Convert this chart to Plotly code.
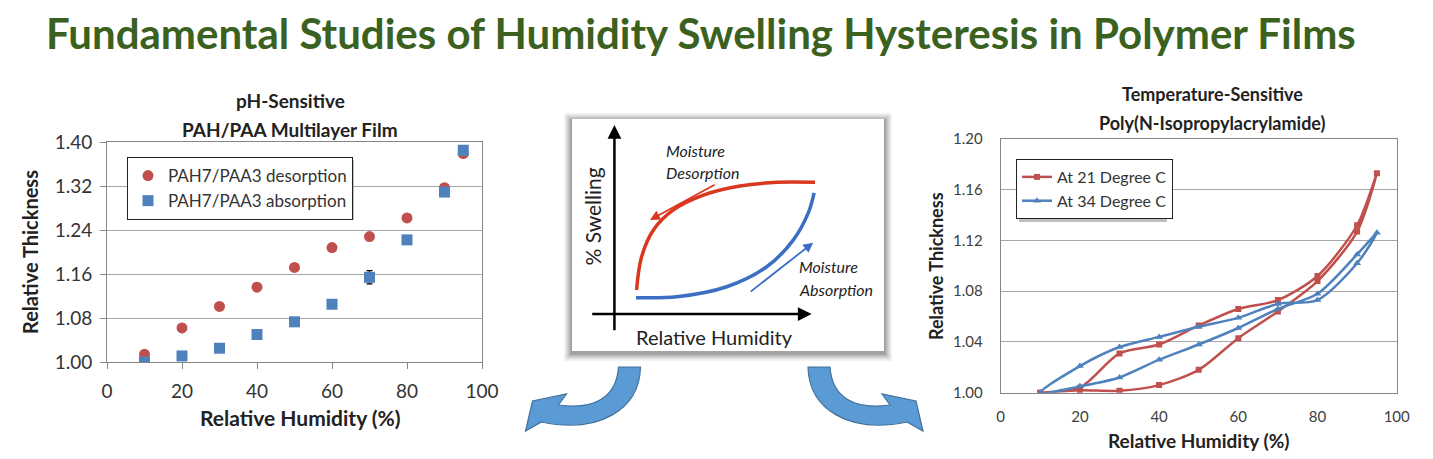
import plotly.graph_objects as go

# ---- data: left chart (PAH/PAA multilayer film) ----
rh_left = [10, 20, 30, 40, 50, 60, 70, 80, 90, 95]
desorption = [1.014, 1.062, 1.101, 1.136, 1.172, 1.208, 1.228, 1.262, 1.317, 1.379]
desorption_err = [0.003, 0.003, 0.003, 0.003, 0.003, 0.003, 0.004, 0.003, 0.003, 0.006]
absorption = [1.000, 1.011, 1.025, 1.050, 1.073, 1.105, 1.154, 1.222, 1.309, 1.385]
absorption_err = [0.002, 0.002, 0.002, 0.002, 0.002, 0.002, 0.012, 0.002, 0.003, 0.004]

# ---- data: right chart (PNIPAM), loops up and back down ----
rh_21 = [10, 20, 30, 40, 50, 60, 70, 80, 90, 95, 90, 80, 70, 60, 50, 40, 30, 20, 10]
thick_21 = [1.000, 1.002, 1.0015, 1.006, 1.018, 1.043, 1.064, 1.088, 1.127, 1.173,
            1.132, 1.092, 1.073, 1.066, 1.053, 1.038, 1.031, 1.004, 1.000]
rh_34 = [10, 20, 30, 40, 50, 60, 70, 80, 90, 95, 90, 80, 70, 60, 50, 40, 30, 20, 10]
thick_34 = [1.000, 1.005, 1.012, 1.026, 1.038, 1.051, 1.066, 1.078, 1.109, 1.126,
            1.102, 1.073, 1.070, 1.059, 1.052, 1.044, 1.036, 1.021, 1.000]

# ---- schematic curves (arbitrary units 0-100) ----
sch_des_x = [20.7, 22.3, 26.1, 32.5, 42.1, 53.8, 65.6, 77.9]
sch_des_y = [26.3, 40.6, 52.2, 60.8, 67.2, 71.1, 72.7, 72.7]
sch_abs_x = [20.5, 33.6, 49.6, 62.4, 70.9, 75.7, 77.6]
sch_abs_y = [23.0, 23.4, 27.7, 36.3, 47.8, 59.4, 68.2]

W, H = 1433, 459
FONT = "Lato"
RED = "#C0504D"
BLUE = "#4F81BD"


def px(x):
    return x / W


def py(y):
    return 1 - y / H


fig = go.Figure()

# left chart
fig.add_trace(go.Scatter(
    x=rh_left, y=desorption, mode="markers", name="PAH7/PAA3 desorption",
    marker=dict(symbol="circle", size=11, color=RED),
    error_y=dict(type="data", array=desorption_err, color="black", thickness=1.2, width=3),
    xaxis="x", yaxis="y", legend="legend"))
fig.add_trace(go.Scatter(
    x=rh_left, y=absorption, mode="markers", name="PAH7/PAA3 absorption",
    marker=dict(symbol="square", size=11, color=BLUE),
    error_y=dict(type="data", array=absorption_err, color="black", thickness=1.2, width=3),
    xaxis="x", yaxis="y", legend="legend"))

# right chart
fig.add_trace(go.Scatter(
    x=rh_21, y=thick_21, mode="lines+markers", name="At 21 Degree C",
    line=dict(color=RED, width=2.5, shape="spline", smoothing=0.8),
    marker=dict(symbol="square", size=6, color=RED),
    xaxis="x2", yaxis="y2", legend="legend2"))
fig.add_trace(go.Scatter(
    x=rh_34, y=thick_34, mode="lines+markers", name="At 34 Degree C",
    line=dict(color=BLUE, width=2.5, shape="spline", smoothing=0.8),
    marker=dict(symbol="triangle-up", size=7, color=BLUE),
    xaxis="x2", yaxis="y2", legend="legend2"))

# schematic
fig.add_trace(go.Scatter(
    x=sch_des_x, y=sch_des_y, mode="lines", showlegend=False,
    line=dict(color="#D9381E", width=3.5, shape="spline"), xaxis="x3", yaxis="y3"))
fig.add_trace(go.Scatter(
    x=sch_abs_x, y=sch_abs_y, mode="lines", showlegend=False,
    line=dict(color="#3C6FC4", width=3.5, shape="spline"), xaxis="x3", yaxis="y3"))

grid = "#A6A6A6"
tickfont_l = dict(family=FONT, size=19, color="#333333")
tickfont_r = dict(family=FONT, size=15, color="#404040")

fig.update_layout(
    width=W, height=H, autosize=False,
    margin=dict(l=0, r=0, t=0, b=0, autoexpand=False),
    paper_bgcolor="white", plot_bgcolor="rgba(0,0,0,0)",
    font=dict(family=FONT),
    xaxis=dict(domain=[px(107), px(482)], range=[0, 100], dtick=20,
               showgrid=False, zeroline=False, showline=True, linecolor="#868686",
               mirror=True, ticks="outside", ticklen=6, tickcolor="#868686",
               tickfont=tickfont_l, ticklabelstandoff=6, anchor="y"),
    yaxis=dict(domain=[py(362), py(142)], range=[1.0, 1.4], tick0=1.0, dtick=0.08,
               tickformat=".2f", showgrid=True, gridcolor=grid, zeroline=False,
               showline=True, linecolor="#868686", mirror=True, ticks="outside", ticklen=6,
               tickcolor="#868686", tickfont=tickfont_l, ticklabelstandoff=4, anchor="x"),
    xaxis2=dict(domain=[px(1000.7), px(1396.7)], range=[0, 100], dtick=20,
                showgrid=False, zeroline=False, showline=True, linecolor="#868686",
                mirror=True, ticks="", tickfont=tickfont_r, ticklabelstandoff=10, anchor="y2"),
    yaxis2=dict(domain=[py(392.7), py(139)], range=[1.0, 1.2], tick0=1.0, dtick=0.04,
                tickformat=".2f", showgrid=True, gridcolor=grid, zeroline=False,
                showline=True, linecolor="#868686", mirror=True, ticks="",
                tickfont=tickfont_r, ticklabelstandoff=14, anchor="x2"),
    xaxis3=dict(domain=[px(572), px(884)], range=[0, 100], visible=False, anchor="y3"),
    yaxis3=dict(domain=[py(351), py(119)], range=[0, 100], visible=False, anchor="x3"),
    legend=dict(x=px(127), y=py(157), xanchor="left", yanchor="top",
                bgcolor="white", bordercolor="#222222", borderwidth=1,
                font=dict(family=FONT, size=17, color="#333333"),
                itemwidth=30, tracegroupgap=0),
    legend2=dict(x=px(1016), y=py(159), xanchor="left", yanchor="top",
                 bgcolor="white", bordercolor="#222222", borderwidth=1,
                 font=dict(family=FONT, size=16, color="#333333"),
                 itemwidth=30, tracegroupgap=0),
)

# ---- shapes: schematic box with soft shadow, legend shadows, curved arrows ----
shapes = []
for i, op in enumerate([0.05, 0.06, 0.08, 0.10, 0.12]):
    g = 8 - i * 1.5
    shapes.append(dict(type="rect", xref="paper", yref="paper", layer="below",
                       x0=px(572 - g), x1=px(884 + g), y0=py(351 + g + 2), y1=py(119 - g + 2),
                       fillcolor=f"rgba(0,0,0,{op})", line=dict(width=0)))
shapes.append(dict(type="rect", xref="paper", yref="paper", layer="below",
                   x0=px(572), x1=px(884), y0=py(351), y1=py(119),
                   fillcolor="white", line=dict(width=0)))
for x0, y0, x1, y1 in [(127, 157, 351, 217), (1016, 159, 1164, 219)]:
    shapes.append(dict(type="rect", xref="paper", yref="paper", layer="below",
                       x0=px(x0 + 3), x1=px(x1 + 3), y0=py(y1 + 3), y1=py(y0 + 3),
                       fillcolor="rgba(0,0,0,0.25)", line=dict(width=0)))


def arrow_path(mirror=False):
    # curved block arrow outline in pixels; mirrored copy for the left one
    cmds = [("M", [(808, 367)]), ("L", [(830, 367)]),
            ("C", [(832, 398), (855, 410), (890, 405)]),
            ("L", [(882, 394)]), ("L", [(916, 401)]), ("L", [(923, 431)]),
            ("L", [(907, 422)]),
            ("C", [(850, 434), (809, 410), (808, 367)])]
    out = []
    for c, pts in cmds:
        s = []
        for x, y in pts:
            if mirror:
                x = 1448.5 - x
            s.append(f"{px(x):.5f},{py(y):.5f}")
        out.append(c + " " + " ".join(s))
    return " ".join(out) + " Z"


for m in [False, True]:
    shapes.append(dict(type="path", xref="paper", yref="paper", path=arrow_path(m),
                       fillcolor="#5B9BD5", line=dict(color="#41719C", width=1.2)))
fig.update_layout(shapes=shapes)

# ---- annotations ----
ann = []


def text(x, y, s, size, bold=False, color="#222222", angle=0, xanchor="center",
         italic=False, ref="paper"):
    if bold:
        s = f"<b>{s}</b>"
    if italic:
        s = f"<i>{s}</i>"
    if ref == "paper":
        ann.append(dict(x=px(x), y=py(y), xref="paper", yref="paper", text=s,
                        showarrow=False, textangle=angle, xanchor=xanchor, yanchor="middle",
                        font=dict(family=FONT, size=size, color=color)))
    else:
        ann.append(dict(x=x, y=y, xref="x3", yref="y3", text=s,
                        showarrow=False, textangle=angle, xanchor=xanchor, yanchor="middle",
                        font=dict(family=FONT, size=size, color=color)))


text(701, 33, "Fundamental Studies of Humidity Swelling Hysteresis in Polymer Films", 42,
     bold=True, color="#3A6120")

text(290, 101, "pH-Sensitive", 19, bold=True)
text(290, 129, "PAH/PAA Multilayer Film", 19, bold=True)
text(30, 252, "Relative Thickness", 20, bold=True, angle=-90)
text(300, 417, "Relative Humidity (%)", 21, bold=True)

text(1212, 94, "Temperature-Sensitive", 18, bold=True)
text(1212, 123, "Poly(N-Isopropylacrylamide)", 18, bold=True)
text(936, 266, "Relative Thickness", 18, bold=True, angle=-90)
text(1198, 440, "Relative Humidity (%)", 19, bold=True)

# schematic labels
text(29.5, 86.5, "Moisture", 16, italic=True, xanchor="left", ref="x3")
text(29.5, 77.0, "Desorption", 16, italic=True, xanchor="left", ref="x3")
text(72.1, 36.3, "Moisture", 16, italic=True, xanchor="left", ref="x3")
text(72.1, 26.3, "Absorption", 16, italic=True, xanchor="left", ref="x3")
text(6.7, 57.9, "% Swelling", 21, angle=-90, ref="x3")
text(45.8, 6.2, "Relative Humidity", 20, ref="x3")

# schematic arrows (axes and direction arrows)
for (x0, y0, x1, y1, col, w) in [(13.6, 8.3, 13.6, 97.4, "black", 2.5),
                                 (6.0, 15.9, 76.8, 15.9, "black", 2.5),
                                 (46.2, 72.0, 25.0, 56.5, "#D9381E", 1.8),
                                 (56.8, 25.1, 77.3, 46.7, "#3C6FC4", 1.8)]:
    ann.append(dict(x=x1, y=y1, ax=x0, ay=y0, xref="x3", yref="y3", axref="x3", ayref="y3",
                    text="", showarrow=True, arrowhead=2, arrowsize=1.1, arrowwidth=w,
                    arrowcolor=col))

fig.update_layout(annotations=ann)

fig.write_html("out.html", config={"displayModeBar": False},
               post_script="document.body.style.margin='0';")
